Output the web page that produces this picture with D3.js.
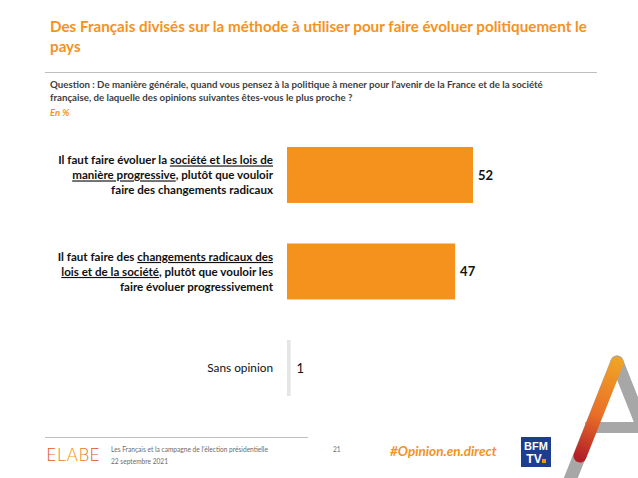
<!DOCTYPE html>
<html>
<head>
<meta charset="utf-8">
<script src="https://cdn.jsdelivr.net/npm/d3@7"></script>
<style>
  html, body { margin: 0; padding: 0; background: #fff; }
  svg { display: block; font-family: Lato, "Open Sans", sans-serif; }
</style>
</head>
<body>
<svg id="chart" width="638" height="478"></svg>
<script>
// chart data
const categories = ["progressive", "radical", "none"];
const values = [52, 47, 1];
const labelLines = [
  [["Il faut faire évoluer la ", false], ["société et les lois de", true]],
  [["manière progressive", true], [", plutôt que vouloir", false]],
  [["faire des changements radicaux", false]]
];
const labelLines2 = [
  [["Il faut faire des ", false], ["changements radicaux des", true]],
  [["lois et de la société", true], [", plutôt que vouloir les", false]],
  [["faire évoluer progressivement", false]]
];
const labelNone = "Sans opinion";

const titleLines = [
  "Des Français divisés sur la méthode à utiliser pour faire évoluer politiquement le",
  "pays"
];
const questionLines = [
  "Question : De manière générale, quand vous pensez à la politique à mener pour l’avenir de la France et de la société",
  "française, de laquelle des opinions suivantes êtes-vous le plus proche ?"
];

const orange = "#f5921e";
const svg = d3.select("#chart");

// header
svg.selectAll("text.title")
  .data(titleLines)
  .join("text")
  .attr("class", "title")
  .attr("x", 50)
  .attr("y", (d, i) => 32 + i * 20)
  .attr("fill", orange)
  .attr("font-size", 15.2)
  .attr("font-weight", "bold")
  .text(d => d);

svg.append("line")
  .attr("x1", 45).attr("x2", 597)
  .attr("y1", 72.5).attr("y2", 72.5)
  .attr("stroke", "#bfbfbf").attr("stroke-width", 1.2);

svg.selectAll("text.question")
  .data(questionLines)
  .join("text")
  .attr("class", "question")
  .attr("x", 50)
  .attr("y", (d, i) => 88 + i * 13)
  .attr("fill", "#404040")
  .attr("font-size", 9.7)
  .attr("font-weight", "bold")
  .text(d => d);

svg.append("text")
  .attr("x", 50).attr("y", 115.5)
  .attr("fill", orange)
  .attr("font-size", 9.5)
  .attr("font-weight", "bold")
  .attr("font-style", "italic")
  .text("En %");

// bars
const x = d3.scaleLinear().domain([0, 52]).range([287, 473]);
const y = d3.scaleBand()
  .domain(categories)
  .range([126.7, 416.2])
  .paddingInner(0.42)
  .paddingOuter(0.21);

const g = svg.append("g");

g.selectAll("rect.bar")
  .data(values)
  .join("rect")
  .attr("class", "bar")
  .attr("x", x(0))
  .attr("y", (d, i) => y(categories[i]))
  .attr("width", d => x(d) - x(0))
  .attr("height", y.bandwidth())
  .attr("fill", (d, i) => i < 2 ? orange : "#e4e4e4");

g.selectAll("text.value")
  .data(values)
  .join("text")
  .attr("class", "value")
  .attr("x", d => x(d) + (d > 1 ? 5 : 6))
  .attr("y", (d, i) => y(categories[i]) + y.bandwidth() / 2 + 5)
  .attr("font-size", 13)
  .attr("font-weight", (d, i) => i < 2 ? "bold" : "normal")
  .attr("fill", "#111")
  .text(d => d);

// category labels
function drawLabel(lines, cat) {
  const cy = y(cat) + y.bandwidth() / 2;
  lines.forEach((parts, li) => {
    const t = g.append("text")
      .attr("x", 273)
      .attr("y", cy + (li - 1) * 15 + 4.5)
      .attr("text-anchor", "end")
      .attr("font-size", 11.6)
      .attr("font-weight", "bold")
      .attr("fill", "#111");
    parts.forEach(p => {
      t.append("tspan")
        .attr("text-decoration", p[1] ? "underline" : null)
        .text(p[0]);
    });
  });
}
drawLabel(labelLines, categories[0]);
drawLabel(labelLines2, categories[1]);
g.append("text")
  .attr("x", 273)
  .attr("y", y(categories[2]) + y.bandwidth() / 2 + 4.5)
  .attr("text-anchor", "end")
  .attr("font-size", 11.8)
  .attr("fill", "#111")
  .text(labelNone);

// footer
svg.append("line")
  .attr("x1", 45).attr("x2", 308)
  .attr("y1", 437.5).attr("y2", 437.5)
  .attr("stroke", "#bfbfbf").attr("stroke-width", 1);

const defs = svg.append("defs");
const lg = defs.append("linearGradient").attr("id", "elabe")
  .attr("x1", "0").attr("x2", "1").attr("y1", "0").attr("y2", "0");
lg.append("stop").attr("offset", "0").attr("stop-color", "#e2452a");
lg.append("stop").attr("offset", "0.5").attr("stop-color", "#f39a1d");
lg.append("stop").attr("offset", "1").attr("stop-color", "#e0361f");

svg.append("text")
  .attr("x", 46).attr("y", 461)
  .attr("font-size", 17)
  .attr("font-family", "'DejaVu Sans', sans-serif")
  .attr("font-weight", 200)
  .attr("fill", "url(#elabe)")
  .text("ELABE");

svg.append("text")
  .attr("x", 111).attr("y", 452)
  .attr("font-size", 6.6).attr("fill", "#6b6b6b")
  .text("Les Français et la campagne de l’élection présidentielle");
svg.append("text")
  .attr("x", 111).attr("y", 464)
  .attr("font-size", 6.6).attr("fill", "#6b6b6b")
  .text("22 septembre 2021");
svg.append("text")
  .attr("x", 333).attr("y", 452)
  .attr("font-size", 6.6).attr("fill", "#6b6b6b")
  .text("21");

svg.append("text")
  .attr("x", 390).attr("y", 456)
  .attr("font-size", 13.5)
  .attr("font-weight", "bold")
  .attr("font-style", "italic")
  .attr("fill", orange)
  .text("#Opinion.en.direct");

// BFM TV logo
const bfm = svg.append("g").attr("transform", "translate(521,437)");
bfm.append("rect").attr("width", 30).attr("height", 30).attr("fill", "#1d3d8f");
bfm.append("text").attr("x", 15).attr("y", 13).attr("text-anchor", "middle")
  .attr("font-size", 11).attr("font-weight", "bold").attr("fill", "#fff")
  .attr("font-family", "'Liberation Sans Narrow', 'Liberation Sans', sans-serif")
  .text("BFM");
bfm.append("text").attr("x", 13).attr("y", 26).attr("text-anchor", "middle")
  .attr("font-size", 12).attr("font-weight", "bold").attr("fill", "#fff")
  .attr("font-family", "'Liberation Sans', sans-serif")
  .text("TV");
bfm.append("rect").attr("x", 21).attr("y", 22).attr("width", 4).attr("height", 4).attr("fill", orange);

// big "A" decoration
const ag = defs.append("linearGradient").attr("id", "aGrad")
  .attr("gradientUnits", "userSpaceOnUse")
  .attr("x1", 617).attr("y1", 362).attr("x2", 580).attr("y2", 458);
ag.append("stop").attr("offset", "0").attr("stop-color", "#f6a21c");
ag.append("stop").attr("offset", "0.55").attr("stop-color", "#ef6a1e");
ag.append("stop").attr("offset", "1").attr("stop-color", "#b4141c");

const deco = svg.append("g");
deco.append("line").attr("x1", 617).attr("y1", 362).attr("x2", 566).attr("y2", 490)
  .attr("stroke", "#a7a7a7").attr("stroke-width", 13).attr("stroke-linecap", "round");
deco.append("line").attr("x1", 617).attr("y1", 362).attr("x2", 650).attr("y2", 445)
  .attr("stroke", "#a7a7a7").attr("stroke-width", 13).attr("stroke-linecap", "round");
deco.append("rect").attr("x", 585).attr("y", 422).attr("width", 60).attr("height", 11)
  .attr("fill", "#a7a7a7");
deco.append("line").attr("x1", 617).attr("y1", 363).attr("x2", 580).attr("y2", 456)
  .attr("stroke", "url(#aGrad)").attr("stroke-width", 13).attr("stroke-linecap", "round")
  .attr("opacity", 0.92);
</script>
</body>
</html>
